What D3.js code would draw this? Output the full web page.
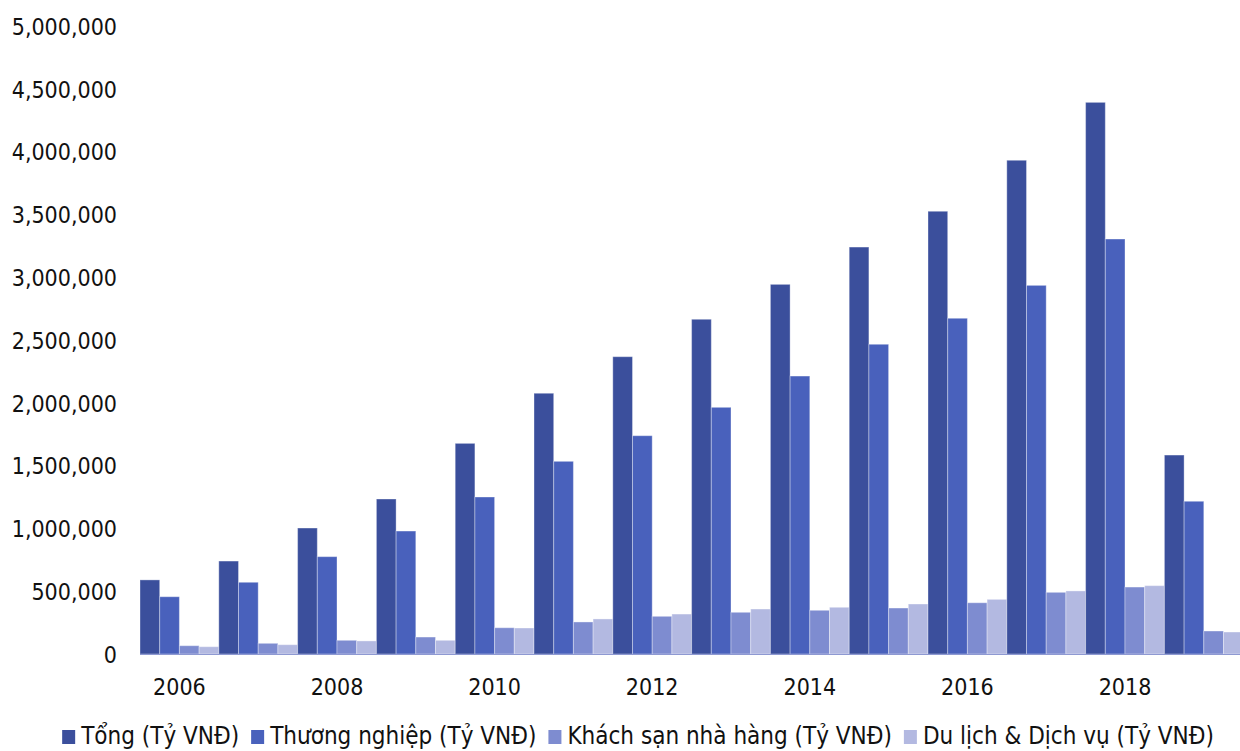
<!DOCTYPE html>
<html>
<head>
<meta charset="utf-8">
<script src="https://cdn.jsdelivr.net/npm/d3@7"></script>
<style>
  html, body { margin: 0; padding: 0; background: #ffffff; }
  svg { display: block; }
  text { font-family: "DejaVu Sans Condensed", "DejaVu Sans", sans-serif; fill: #111; }
</style>
</head>
<body>
<svg id="chart" width="1240" height="751"></svg>
<script>
// Years on the category axis
const years = ["2006","2007","2008","2009","2010","2011","2012","2013","2014","2015","2016","2017","2018","2019"];
// Only every other year is labelled
const yearLabels = ["2006","2008","2010","2012","2014","2016","2018"];

// Series names and values (Tỷ VNĐ)
const seriesNames = ["Tổng (Tỷ VNĐ)", "Thương nghiệp (Tỷ VNĐ)", "Khách sạn nhà hàng (Tỷ VNĐ)", "Du lịch & Dịch vụ (Tỷ VNĐ)"];
const tong      = [590000, 740000, 1003000, 1234000, 1677000, 2076000, 2367000, 2665000, 2943000, 3240000, 3525000, 3931000, 4392000, 1584000];
const thuongNghiep = [456000, 571000, 775000, 979000, 1250000, 1534000, 1738000, 1964000, 2213000, 2466000, 2673000, 2935000, 3304000, 1216000];
const khachSan  = [66000, 85000, 109000, 135000, 209000, 255000, 300000, 332000, 348000, 366000, 408000, 491000, 533000, 183000];
const duLich    = [58000, 74000, 104000, 109000, 207000, 279000, 318000, 358000, 372000, 398000, 435000, 502000, 544000, 175000];
const seriesValues = [tong, thuongNghiep, khachSan, duLich];
const colors = ["#3b4f9c", "#4961bc", "#7e8cd0", "#b3b9e1"];

// Value axis ticks
const yTicks = [0, 500000, 1000000, 1500000, 2000000, 2500000, 3000000, 3500000, 4000000, 4500000, 5000000];

const svg = d3.select("#chart");

const plot = { left: 140, right: 1243.2, top: 26, bottom: 654 };

const x = d3.scaleBand().domain(years).range([plot.left, plot.right]).padding(0);
const xInner = d3.scaleBand().domain(d3.range(seriesNames.length)).range([0, x.bandwidth()]).padding(0);
const y = d3.scaleLinear().domain([0, 5000000]).range([plot.bottom, plot.top]);

// Y axis labels (no axis line, no gridlines)
const fmt = d3.format(",");
const yAxis = d3.axisLeft(y).tickValues(yTicks).tickFormat(fmt).tickSize(0).tickPadding(0);
const gy = svg.append("g").attr("transform", "translate(117,0)").call(yAxis);
gy.select(".domain").remove();
gy.selectAll("text")
  .style("font-family", '"DejaVu Sans Condensed", "DejaVu Sans", sans-serif')
  .style("font-size", "23px")
  .attr("fill", "#111")
  .attr("dy", "0.36em");

// Bars
const groups = svg.append("g").selectAll("g")
  .data(years)
  .join("g")
  .attr("transform", d => `translate(${x(d)},0)`);

groups.selectAll("rect")
  .data((d, i) => seriesValues.map((vals, s) => ({ s, v: vals[i] })))
  .join("rect")
  .attr("x", d => xInner(d.s))
  .attr("y", d => y(d.v))
  .attr("width", xInner.bandwidth())
  .attr("height", d => y(0) - y(d.v))
  .attr("fill", d => colors[d.s])
  .attr("stroke", "rgba(255,255,255,0.35)")
  .attr("stroke-width", 1);

// Baseline
svg.append("line")
  .attr("x1", plot.left).attr("x2", plot.right)
  .attr("y1", y(0) + 0.5).attr("y2", y(0) + 0.5)
  .attr("stroke", "#8e99d2")
  .attr("stroke-width", 1);

// X axis labels
const xAxis = d3.axisBottom(x).tickValues(yearLabels).tickSize(0).tickPadding(0);
const gx = svg.append("g").attr("transform", `translate(0,${plot.bottom})`).call(xAxis);
gx.select(".domain").remove();
gx.selectAll("text")
  .style("font-family", '"DejaVu Sans Condensed", "DejaVu Sans", sans-serif')
  .style("font-size", "23px")
  .attr("fill", "#111")
  .attr("y", 41)
  .attr("dy", 0);

// Legend, laid out from measured text widths and centred
const legend = svg.append("g");
const sw = 13, gapText = 6, gapItem = 12;
const items = legend.selectAll("g").data(seriesNames).join("g");
items.append("rect")
  .attr("width", sw).attr("height", 14)
  .attr("y", 730)
  .attr("fill", (d, i) => colors[i]);
items.append("text")
  .attr("x", sw + gapText)
  .attr("y", 744)
  .style("font-size", "24px")
  .text(d => d);

const widths = [];
items.each(function () { widths.push(d3.select(this).select("text").node().getComputedTextLength()); });
let total = 0;
widths.forEach((w, i) => { total += sw + gapText + w + (i < widths.length - 1 ? gapItem : 0); });
let cx = 638 - total / 2;
items.attr("transform", (d, i) => {
  const t = `translate(${cx},0)`;
  cx += sw + gapText + widths[i] + gapItem;
  return t;
});
</script>
</body>
</html>
